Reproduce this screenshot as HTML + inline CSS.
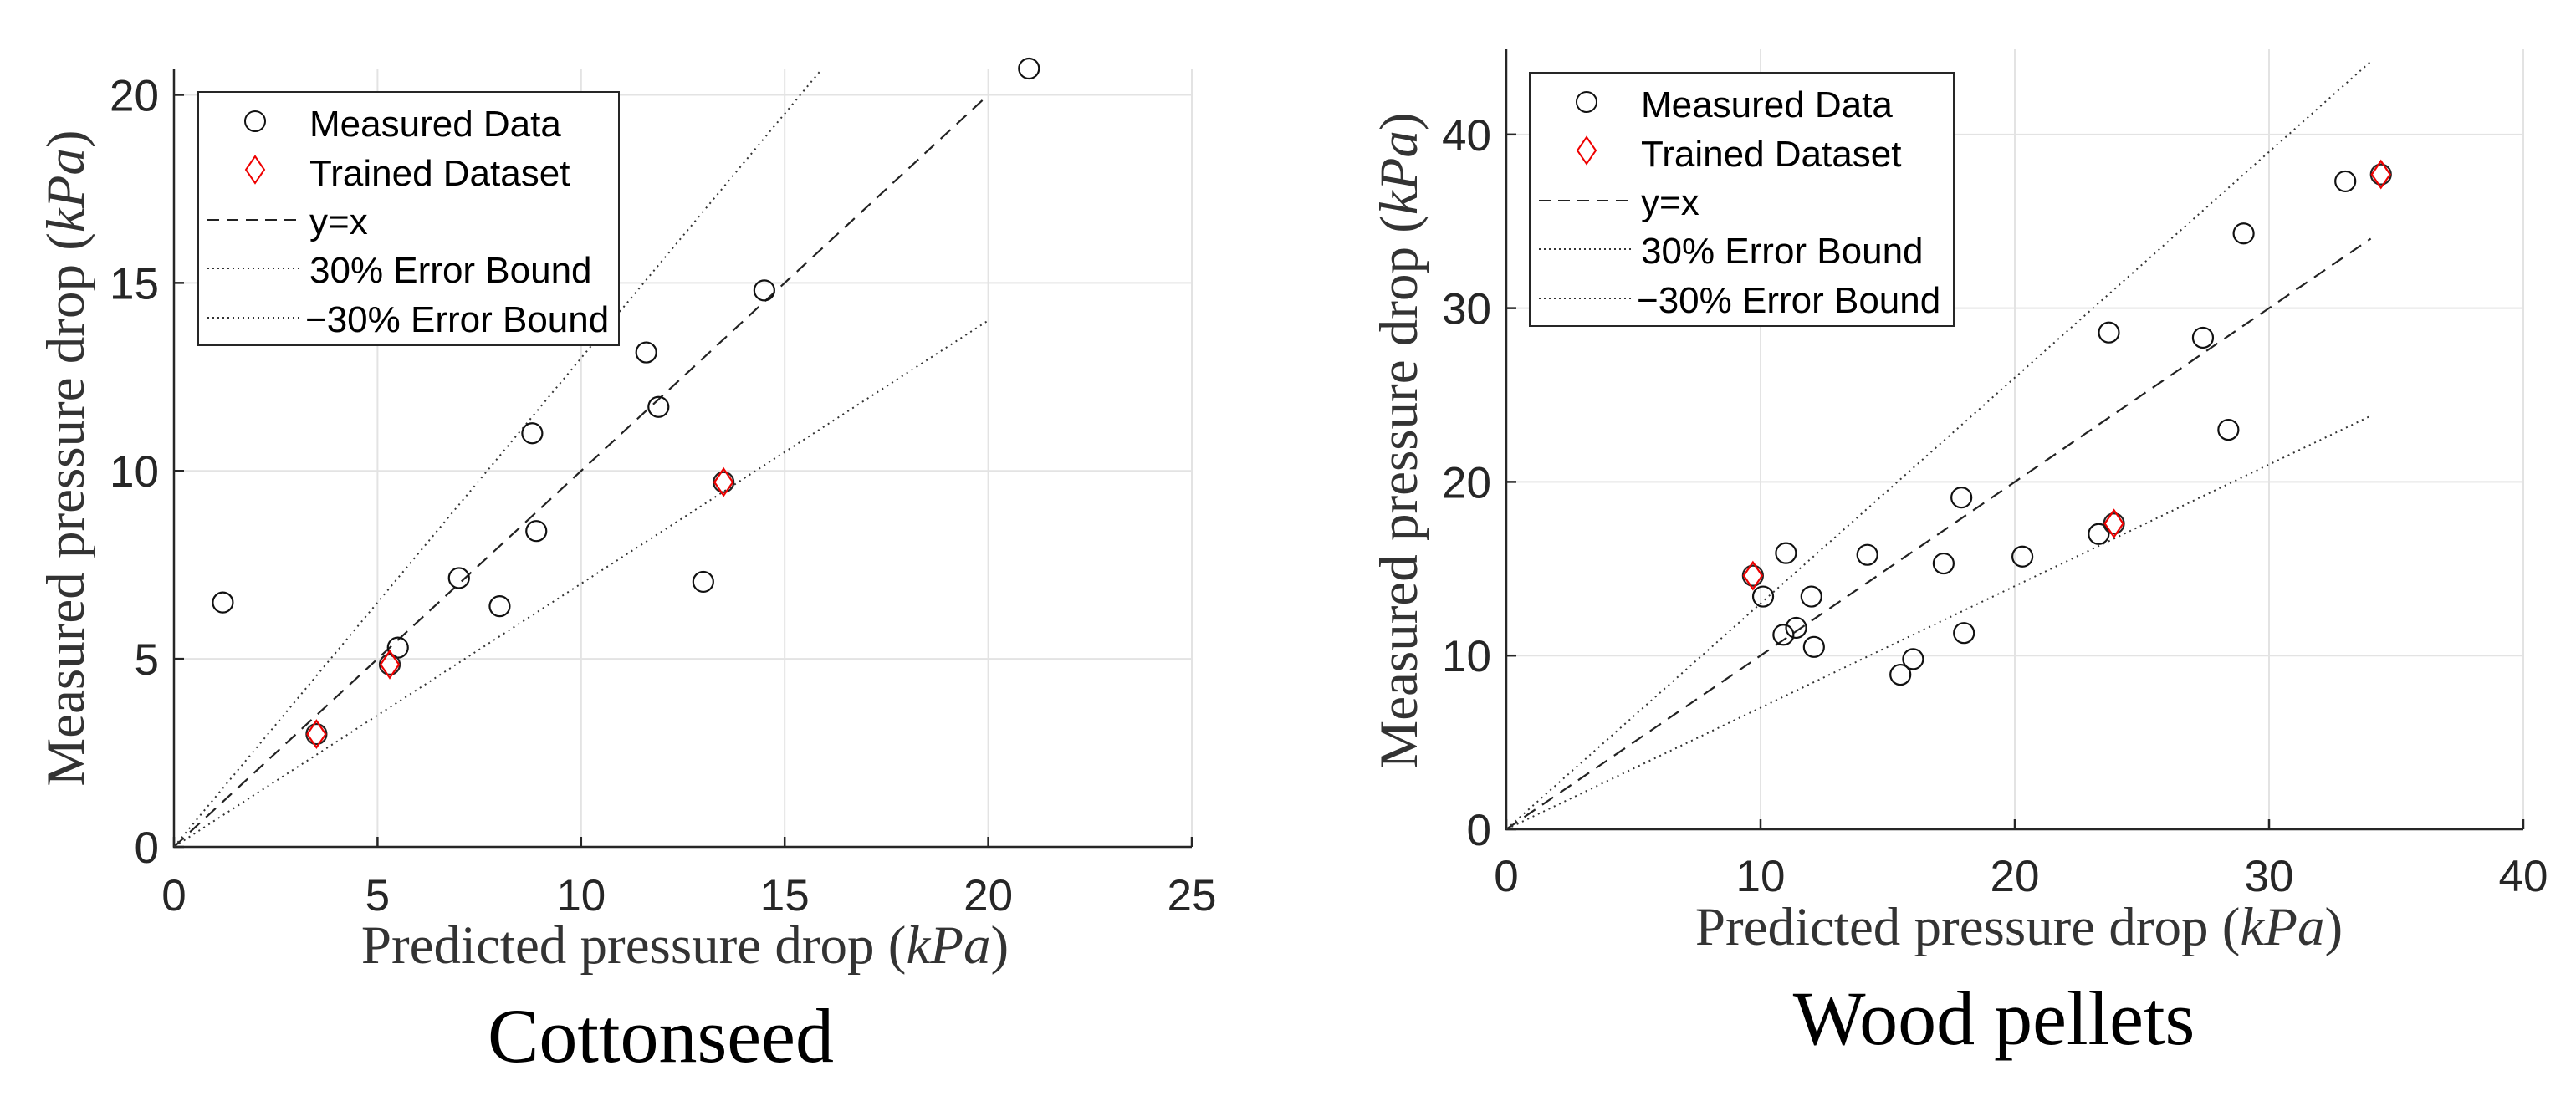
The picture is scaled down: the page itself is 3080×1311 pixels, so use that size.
<!DOCTYPE html>
<html><head><meta charset="utf-8"><style>
html,body{margin:0;padding:0;background:#fff;}
svg{display:block;}
</style></head><body>
<svg id="fig" width="3080" height="1311" xmlns="http://www.w3.org/2000/svg"></svg>
<script>
// ---- Cottonseed data ----
const cottonMeasuredX = [1.2, 5.5, 7.0, 8.0, 8.8, 8.9, 11.6, 11.9, 13.0, 14.5, 21.0];
const cottonMeasuredY = [6.5, 5.3, 7.15, 6.4, 11.0, 8.4, 13.15, 11.7, 7.05, 14.8, 20.7];
const cottonTrainedX = [3.5, 5.3, 13.5];
const cottonTrainedY = [3.0, 4.85, 9.7];
const cottonXTicks = [0, 5, 10, 15, 20, 25];
const cottonYTicks = [0, 5, 10, 15, 20];
const cottonLineMax = 20;
// ---- Wood pellets data ----
const woodMeasuredX = [10.1, 10.9, 11.0, 11.4, 12.0, 12.1, 14.2, 15.5, 16.0, 17.2, 17.9, 18.0, 20.3, 23.3, 23.7, 27.4, 28.4, 29.0, 33.0];
const woodMeasuredY = [13.4, 11.2, 15.9, 11.6, 13.4, 10.5, 15.8, 8.9, 9.8, 15.3, 19.1, 11.3, 15.7, 17.0, 28.6, 28.3, 23.0, 34.3, 37.3];
const woodTrainedX = [9.7, 23.9, 34.4];
const woodTrainedY = [14.6, 17.6, 37.7];
const woodXTicks = [0, 10, 20, 30, 40];
const woodYTicks = [0, 10, 20, 30, 40];
const woodLineMax = 34;
const boundFactor = 0.3;

const NS = 'http://www.w3.org/2000/svg';
const svg = document.getElementById('fig');
function mk(tag, attrs, parent, text){
  const e = document.createElementNS(NS, tag);
  for (const k in attrs) e.setAttribute(k, attrs[k]);
  if (text !== undefined) e.textContent = text;
  (parent || svg).appendChild(e);
  return e;
}

function drawPanel(cfg){
  const g = mk('g', {});
  
  
  const sx = v => cfg.x0 + (v - 0) / cfg.xmax * (cfg.x1 - cfg.x0);
  const sy = v => cfg.y0 - v / cfg.ymax * (cfg.y0 - cfg.yTop);
  const clipId = cfg.name + '-clip';
  const defs = mk('defs', {}, g);
  const cp = mk('clipPath', {id: clipId}, defs);
  mk('rect', {x: cfg.x0, y: cfg.yTop, width: cfg.x1 - cfg.x0, height: cfg.y0 - cfg.yTop}, cp);
  cfg.xTicks.forEach(t => {
    if (t === 0) return;
    const l = mk('line', {x1: sx(t), x2: sx(t), y1: cfg.yTop, y2: cfg.y0, stroke: '#e3e3e3', 'stroke-width': 2}, g);
    
    
  });
  cfg.yTicks.forEach(t => {
    if (t === 0) return;
    const l = mk('line', {x1: cfg.x0, x2: cfg.x1, y1: sy(t), y2: sy(t), stroke: '#e3e3e3', 'stroke-width': 2}, g);
    
    
  });
  const ax = mk('path', {d: `M${cfg.x0},${cfg.yTop} L${cfg.x0},${cfg.y0} L${cfg.x1},${cfg.y0}`, fill: 'none', stroke: '#262626', 'stroke-width': 2.5}, g);
  
  
  cfg.xTicks.forEach(t => {
    mk('line', {x1: sx(t), x2: sx(t), y1: cfg.y0, y2: cfg.y0 - 12, stroke: '#262626', 'stroke-width': 2.5}, g);
    const tx = mk('text', {x: sx(t), y: cfg.xTickY, 'text-anchor': 'middle', 'font-family': 'Liberation Sans, sans-serif', 'font-size': 53, fill: '#262626'}, g, String(t));
    
    
  });
  cfg.yTicks.forEach(t => {
    mk('line', {x1: cfg.x0, x2: cfg.x0 + 12, y1: sy(t), y2: sy(t), stroke: '#262626', 'stroke-width': 2.5}, g);
    const tx = mk('text', {x: cfg.x0 - 18, y: sy(t) + 19, 'text-anchor': 'end', 'font-family': 'Liberation Sans, sans-serif', 'font-size': 53, fill: '#262626'}, g, String(t));
    
    
  });
  const lg = mk('g', {'clip-path': `url(#${clipId})`}, g);
  const m = cfg.lineMax;
  const yx = mk('line', {x1: sx(0), y1: sy(0), x2: sx(m), y2: sy(m), stroke: '#222', 'stroke-width': 2.2, 'stroke-dasharray': '16 10'}, lg);
  
  
  const up = mk('line', {x1: sx(0), y1: sy(0), x2: sx(m), y2: sy(m * (1 + boundFactor)), stroke: '#333', 'stroke-width': 2, 'stroke-dasharray': '2 5'}, lg);
  
  
  const lo = mk('line', {x1: sx(0), y1: sy(0), x2: sx(m), y2: sy(m * (1 - boundFactor)), stroke: '#333', 'stroke-width': 2, 'stroke-dasharray': '2 5'}, lg);
  
  
  cfg.mx.forEach((v, i) => {
    const c = mk('circle', {cx: sx(v), cy: sy(cfg.my[i]), r: 12, fill: 'none', stroke: '#111', 'stroke-width': 2.2}, g);
    
    
  });
  cfg.tx.forEach((v, i) => {
    const X = sx(v), Y = sy(cfg.ty[i]);
    const c = mk('circle', {cx: X, cy: Y, r: 12, fill: 'none', stroke: '#222', 'stroke-width': 2.2}, g);
    
    
    const d = mk('path', {d: `M${X},${Y - 16} L${X + 11},${Y} L${X},${Y + 16} L${X - 11},${Y} Z`, fill: 'none', stroke: '#e00', 'stroke-width': 2.2}, g);
    
    
  });
  const L = mk('g', {}, g);
  
  
  const lx = cfg.legX, ly = cfg.legY;
  mk('rect', {x: lx, y: ly, width: cfg.legW, height: 303, fill: '#fff', stroke: '#262626', 'stroke-width': 2}, L);
  const labels = ['Measured Data', 'Trained Dataset', 'y=x', '30% Error Bound', '\u221230% Error Bound'];
  const base = [53, 112, 170, 228, 287];
  labels.forEach((t, i) => {
    const tx = mk('text', {x: lx + (i === 4 ? 128 : 133), y: ly + base[i], 'font-family': 'Liberation Sans, sans-serif', 'font-size': 44, fill: '#000'}, L, t);
    
    
  });
  mk('circle', {cx: lx + 68, cy: ly + 35, r: 12, fill: 'none', stroke: '#111', 'stroke-width': 2}, L);
  const dy = ly + 93;
  mk('path', {d: `M${lx + 68},${dy - 16} L${lx + 79},${dy} L${lx + 68},${dy + 16} L${lx + 57},${dy} Z`, fill: 'none', stroke: '#e00', 'stroke-width': 2}, L);
  mk('line', {x1: lx + 11, x2: lx + 125, y1: ly + 153, y2: ly + 153, stroke: '#222', 'stroke-width': 2, 'stroke-dasharray': '14 9'}, L);
  mk('line', {x1: lx + 11, x2: lx + 125, y1: ly + 211, y2: ly + 211, stroke: '#333', 'stroke-width': 2, 'stroke-dasharray': '2 4'}, L);
  mk('line', {x1: lx + 11, x2: lx + 125, y1: ly + 270, y2: ly + 270, stroke: '#333', 'stroke-width': 2, 'stroke-dasharray': '2 4'}, L);
  const xl = mk('text', {x: cfg.xlabX, y: cfg.xlabY, 'text-anchor': 'middle', 'font-family': 'Liberation Serif, serif', 'font-size': 65, fill: '#333'}, g);
  
  
  xl.innerHTML = 'Predicted pressure drop (<tspan font-style="italic">kPa</tspan>)';
  const yl = mk('text', {x: 0, y: 0, 'text-anchor': 'middle', 'font-family': 'Liberation Serif, serif', 'font-size': 65, fill: '#333', transform: `translate(${cfg.ylabX},${cfg.ylabY}) rotate(-90)`}, g);
  
  
  yl.innerHTML = 'Measured pressure drop (<tspan font-style="italic">kPa</tspan>)';
  const tt = mk('text', {x: cfg.titleX, y: cfg.titleY, 'text-anchor': 'middle', 'font-family': 'Liberation Serif, serif', 'font-size': 92, fill: '#000'}, g, cfg.title);
  
  
}

drawPanel({name: 'cottonseed', x0: 208, x1: 1425, y0: 1013, yTop: 82, xmax: 25, ymax: 20.7,
  xTicks: cottonXTicks, yTicks: cottonYTicks, lineMax: cottonLineMax,
  mx: cottonMeasuredX, my: cottonMeasuredY, tx: cottonTrainedX, ty: cottonTrainedY,
  xTickY: 1089, legX: 237, legY: 110, legW: 503,
  xlabX: 819, xlabY: 1152, ylabX: 100, ylabY: 548, titleX: 790, titleY: 1270, title: 'Cottonseed'});
drawPanel({name: 'wood-pellets', x0: 1801, x1: 3017, y0: 992, yTop: 59, xmax: 40, ymax: 44.9,
  xTicks: woodXTicks, yTicks: woodYTicks, lineMax: woodLineMax,
  mx: woodMeasuredX, my: woodMeasuredY, tx: woodTrainedX, ty: woodTrainedY,
  xTickY: 1066, legX: 1829, legY: 87, legW: 507,
  xlabX: 2414, xlabY: 1130, ylabX: 1694, ylabY: 527, titleX: 2384, titleY: 1249, title: 'Wood pellets'});
</script>
</body></html>
